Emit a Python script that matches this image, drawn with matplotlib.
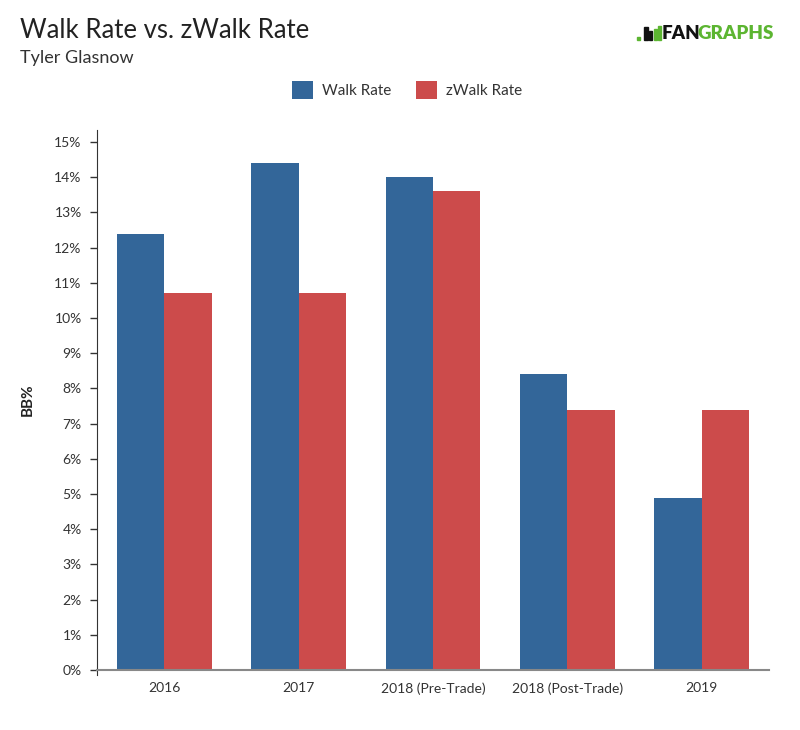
import matplotlib
matplotlib.use("Agg")
import matplotlib.pyplot as plt
from matplotlib.patches import Rectangle
import numpy as np

categories = ["2016", "2017", "2018 (Pre-Trade)", "2018 (Post-Trade)", "2019"]
walk_rate = [12.4, 14.4, 14.0, 8.4, 4.9]
zwalk_rate = [10.7, 10.7, 13.6, 7.4, 7.4]
yticks = list(range(0, 16))

plt.rcParams['font.family'] = ['Lato', 'DejaVu Sans']

fig = plt.figure(figsize=(8, 7.3), dpi=100)
ax = fig.add_axes([97/800, 1-670/730, 672/800, 540/730])

x = np.arange(len(categories))
w = 0.353
blue = "#336699"
red = "#cc4b4b"
ax.bar(x - w/2, walk_rate, width=w, color=blue, label="Walk Rate")
ax.bar(x + w/2, zwalk_rate, width=w, color=red, label="zWalk Rate")

ax.set_xlim(-0.5, len(categories) - 0.5)
ax.set_ylim(0, 540/35.2)
ax.set_yticks(yticks)
ax.set_yticklabels([f"{t}%" for t in yticks])
ax.set_xticks(x)
ax.set_xticklabels(categories)
ax.tick_params(axis='y', direction='out', length=5, width=1, color='#333333', labelsize=10, labelcolor='#333333', pad=6)
ax.tick_params(axis='x', length=0, labelsize=10, labelcolor='#333333', pad=9)
for s in ['top', 'right']:
    ax.spines[s].set_visible(False)
ax.spines['left'].set_color('#333333')
ax.spines['bottom'].set_color('#888888')
ax.spines['bottom'].set_linewidth(1.5)
ax.spines['left'].set_bounds(-0.15, 540/35.2)
ax.set_ylabel("BB%", fontsize=11, fontweight='bold', color='#222222', labelpad=14)

fig.text(20/800, 1-30/730, "Walk Rate vs. zWalk Rate", fontsize=18.5, color='#222222', va='center', ha='left')
fig.text(20/800, 1-58/730, "Tyler Glasnow", fontsize=13, color='#333333', va='center', ha='left')

leg = fig.legend(loc='center', bbox_to_anchor=(407/800, 1-90/730), ncol=2, frameon=False,
                 fontsize=11, handlelength=1.4, handleheight=1.4, columnspacing=1.6, handletextpad=0.6)
for t in leg.get_texts():
    t.set_color('#333333')

# logo
green = '#5cb531'
fig.text(662/800, 1-33.5/730, "FAN", fontsize=13.5, fontweight='heavy', color='#111111', va='center', ha='left')
fig.text(697/800, 1-33.5/730, "GRAPHS", fontsize=13.5, fontweight='heavy', color=green, va='center', ha='left')
icon = [(637, 37, 3, 3, green), (644, 27, 4, 13, '#111111'), (649, 31, 3, 9, '#111111'),
        (654, 29, 2.5, 11, green), (658, 26, 2.5, 14, green)]
for (px, py, pw, ph, c) in icon:
    fig.patches.append(Rectangle((px/800, 1-(py+ph)/730), pw/800, ph/730, transform=fig.transFigure,
                                 color=c, zorder=5))

fig.savefig("out.png", dpi=100, facecolor='white')
